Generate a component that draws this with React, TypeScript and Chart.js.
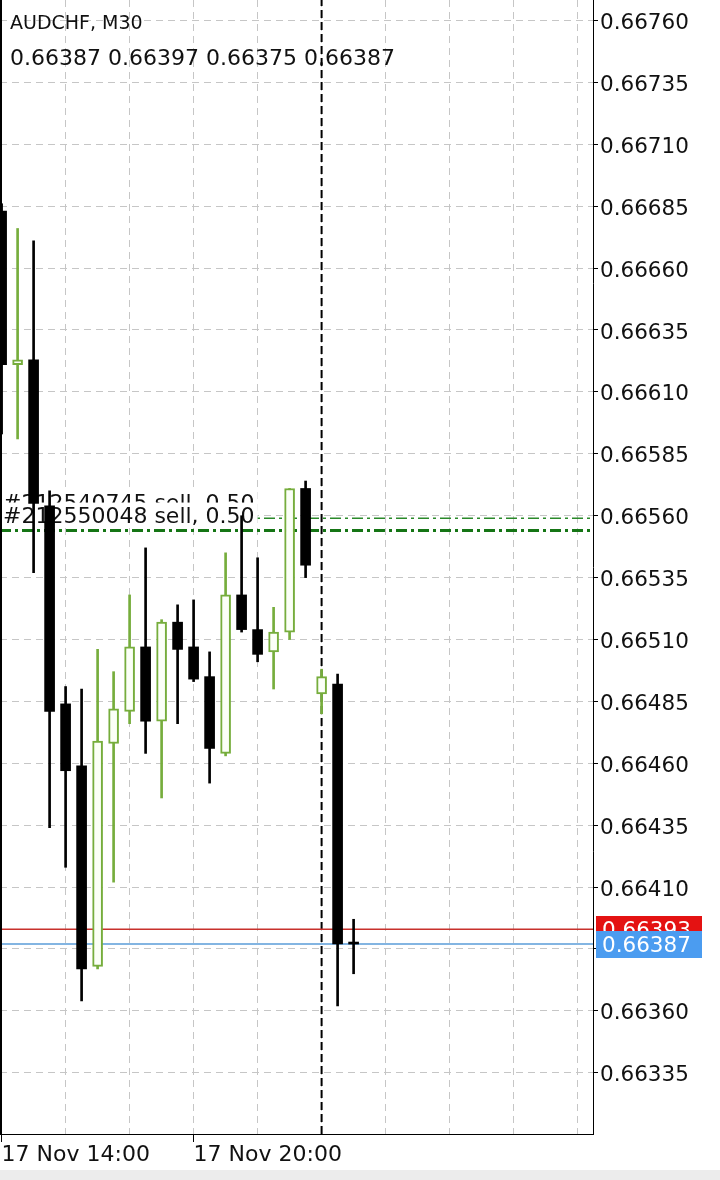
import React, { useEffect, useRef } from "react";
import { Chart, registerables } from "chart.js";

Chart.register(...registerables);

const SYMBOL_TITLE = "AUDCHF, M30";

const TIMES = [
  "17 Nov 14:00", "17 Nov 14:30", "17 Nov 15:00", "17 Nov 15:30", "17 Nov 16:00", "17 Nov 16:30",
  "17 Nov 17:00", "17 Nov 17:30", "17 Nov 18:00", "17 Nov 18:30", "17 Nov 19:00", "17 Nov 19:30",
  "17 Nov 20:00", "17 Nov 20:30", "17 Nov 21:00", "17 Nov 21:30", "17 Nov 22:00", "17 Nov 22:30",
  "17 Nov 23:00", "17 Nov 23:30", "18 Nov 00:00", "18 Nov 00:30", "18 Nov 01:00",
];

const OPEN = [
  0.66683, 0.66621, 0.66623, 0.66564, 0.66484, 0.66459, 0.66378, 0.66468, 0.66481, 0.66507, 0.66477, 0.66517,
  0.66507, 0.66495, 0.66464, 0.66528, 0.66514, 0.66505, 0.66513, 0.66571, 0.66488, 0.66492, 0.66387,
];
const HIGH = [
  0.66686, 0.66676, 0.66671, 0.66570, 0.66491, 0.66490, 0.66506, 0.66497, 0.66528, 0.66547, 0.66518, 0.66524,
  0.66526, 0.66505, 0.66545, 0.66560, 0.66543, 0.66523, 0.66571, 0.66574, 0.66498, 0.66496, 0.66397,
];
const LOW = [
  0.66593, 0.66591, 0.66537, 0.66434, 0.66418, 0.66364, 0.66377, 0.66412, 0.66476, 0.66464, 0.66446, 0.66476,
  0.66493, 0.66452, 0.66463, 0.66513, 0.66501, 0.66490, 0.66510, 0.66535, 0.66480, 0.66362, 0.66375,
];
const CLOSE = [
  0.66621, 0.66623, 0.66565, 0.66481, 0.66457, 0.66377, 0.66469, 0.66482, 0.66507, 0.66477, 0.66517, 0.66506,
  0.66494, 0.66466, 0.66528, 0.66514, 0.66504, 0.66513, 0.66571, 0.66540, 0.66495, 0.66387, 0.66387,
];

const Y_TICK_LABELS = [
  "0.66760", "0.66735", "0.66710", "0.66685", "0.66660", "0.66635", "0.66610", "0.66585", "0.66560",
  "0.66535", "0.66510", "0.66485", "0.66460", "0.66435", "0.66410", "0.66385", "0.66360", "0.66335",
];
const X_TICK_LABELS = ["17 Nov 14:00", "17 Nov 20:00"];
const GRID_EVERY_BARS = 4;
const DAY_SEPARATOR = "18 Nov 00:00";

const ORDER_LABELS = ["#212540745 sell, 0.50", "#212550048 sell, 0.50"];
const ORDER_PRICES = [0.66559, 0.66554];

const ASK_PRICE = 0.66393;
const BID_PRICE = 0.66387;

const Y_MIN = 0.6631028;
const Y_MAX = 0.6676828;
const X_MIN = -0.1;
const X_MAX = 36.9625;

const GREEN = "#76ad3c";
const FONT = '"DejaVu Sans"';

const isBull = (i: number) => CLOSE[i] > OPEN[i];

export default function App() {
  const ref = useRef<HTMLCanvasElement | null>(null);

  useEffect(() => {
    document.body.style.margin = "0";
    const canvas = ref.current;
    if (!canvas) return;

    const last = TIMES.length - 1;
    const ohlcText = [OPEN[last], HIGH[last], LOW[last], CLOSE[last]].map((v) => v.toFixed(5)).join(" ");
    const sepIndex = TIMES.indexOf(DAY_SEPARATOR);

    const overlay = {
      id: "overlay",
      beforeDatasetsDraw(chart: any) {
        const ctx = chart.ctx;
        ctx.save();
        ctx.fillStyle = "#111";
        ctx.textBaseline = "alphabetic";
        ctx.textAlign = "left";
        ctx.font = `19px ${FONT}`;
        ctx.fillText(SYMBOL_TITLE, 10, 29);
        ctx.font = `22px ${FONT}`;
        ctx.fillText(ohlcText, 10, 65);
        ctx.restore();
      },
      afterDatasetDraw(chart: any, args: any) {
        const ds = chart.data.datasets[args.index];
        if (ds.label !== "order-1") return;
        const ctx = chart.ctx;
        const ys = chart.scales.y;
        const left = chart.chartArea.left;
        ctx.save();
        ctx.font = `22px ${FONT}`;
        ctx.textAlign = "left";
        ctx.textBaseline = "alphabetic";
        ORDER_LABELS.forEach((txt, k) => {
          const py = ys.getPixelForValue(ORDER_PRICES[k]);
          const w = ctx.measureText(txt).width;
          ctx.fillStyle = "#ffffff";
          ctx.fillRect(left + 2, py - 28, w + 4, 25);
          ctx.fillStyle = "#111";
          ctx.fillText(txt, left + 3, py - 8);
        });
        ctx.restore();
      },
      afterDraw(chart: any) {
        const ctx = chart.ctx;
        const area = chart.chartArea;
        const ys = chart.scales.y;
        ctx.save();
        ctx.strokeStyle = "#000";
        ctx.lineWidth = 2;
        ctx.beginPath();
        ctx.moveTo(area.left + 1, area.top);
        ctx.lineTo(area.left + 1, area.bottom);
        ctx.stroke();

        const box = (price: number, color: string) => {
          const py = Math.round(ys.getPixelForValue(price));
          ctx.fillStyle = color;
          ctx.fillRect(area.right + 3, py - 13, 106, 27);
          ctx.fillStyle = "#fff";
          ctx.font = `21.5px ${FONT}`;
          ctx.textAlign = "left";
          ctx.textBaseline = "middle";
          ctx.fillText(price.toFixed(5), area.right + 9, py + 2);
        };
        box(ASK_PRICE, "#e41212");
        box(BID_PRICE, "#4b9cf0");
        ctx.restore();
      },
    };

    const hLine = (price: number) => [
      { x: X_MIN, y: price },
      { x: X_MAX, y: price },
    ];

    const chart = new Chart(canvas, {
      type: "bar",
      data: {
        datasets: [
          {
            type: "line",
            label: "separator",
            data: [
              { x: sepIndex, y: Y_MIN },
              { x: sepIndex, y: Y_MAX },
            ],
            borderColor: "#000",
            borderWidth: 2,
            borderDash: [8, 4],
            pointRadius: 0,
            order: 8,
          } as any,
          {
            type: "line",
            label: "order-0",
            data: hLine(ORDER_PRICES[0]),
            borderColor: "#2a8a2a",
            borderWidth: 1.5,
            borderDash: [11, 4, 3, 4],
            pointRadius: 0,
            order: 7,
          } as any,
          {
            type: "line",
            label: "order-1",
            data: hLine(ORDER_PRICES[1]),
            borderColor: "#157515",
            borderWidth: 3,
            borderDash: [11, 4, 3, 4],
            pointRadius: 0,
            order: 6,
          } as any,
          {
            type: "line",
            label: "ask",
            data: hLine(ASK_PRICE),
            borderColor: "#c8312c",
            borderWidth: 1.5,
            pointRadius: 0,
            order: 5,
          } as any,
          {
            type: "line",
            label: "bid",
            data: hLine(BID_PRICE),
            borderColor: "#5a9cd8",
            borderWidth: 1.5,
            pointRadius: 0,
            order: 4,
          } as any,
          {
            type: "bar",
            label: "wicks",
            data: TIMES.map((_, i) => ({ x: i, y: [LOW[i], HIGH[i]] })),
            backgroundColor: TIMES.map((_, i) => (isBull(i) ? GREEN : "#000")),
            borderWidth: 0,
            barThickness: 2,
            grouped: false,
            order: 2,
          } as any,
          {
            type: "bar",
            label: "bodies",
            data: TIMES.map((_, i) => ({ x: i, y: [OPEN[i], CLOSE[i]] })),
            backgroundColor: TIMES.map((_, i) => (isBull(i) ? "#fbfff7" : "#000")),
            borderColor: TIMES.map((_, i) => (isBull(i) ? GREEN : "#000")),
            borderWidth: TIMES.map((_, i) => (isBull(i) ? 2 : 0)),
            borderSkipped: false,
            barThickness: 10,
            minBarLength: 2,
            grouped: false,
            order: 1,
          } as any,
        ],
      },
      options: {
        responsive: false,
        animation: false,
        layout: { padding: 0 },
        plugins: { legend: { display: false }, tooltip: { enabled: false }, title: { display: false } },
        scales: {
          x: {
            type: "linear",
            min: X_MIN,
            max: X_MAX,
            offset: false,
            afterBuildTicks: (s: any) => {
              const t: any[] = [];
              for (let v = 0; v <= X_MAX; v += GRID_EVERY_BARS) t.push({ value: v });
              s.ticks = t;
            },
            afterFit: (s: any) => {
              s.height = 36;
              s.paddingLeft = 0;
              s.paddingRight = 0;
            },
            ticks: {
              autoSkip: false,
              maxRotation: 0,
              minRotation: 0,
              align: "start",
              padding: 0,
              color: "#111",
              font: { family: FONT, size: 22 },
              callback: (v: any) => {
                const lbl = TIMES[Number(v)];
                return lbl && X_TICK_LABELS.includes(lbl) ? lbl : "";
              },
            },
            grid: {
              offset: false,
              color: "#c6c6c6",
              lineWidth: 1,
              drawTicks: true,
              tickLength: 8,
              tickWidth: 1,
              tickColor: (c: any) => {
                const lbl = TIMES[Number(c.tick?.value)];
                return lbl && X_TICK_LABELS.includes(lbl) ? "#000" : "rgba(0,0,0,0)";
              },
            },
            border: { display: true, color: "#000", width: 1, dash: [7, 5] },
          } as any,
          y: {
            type: "linear",
            position: "right",
            min: Y_MIN,
            max: Y_MAX,
            beginAtZero: false,
            afterBuildTicks: (s: any) => {
              s.ticks = Y_TICK_LABELS.map((l) => ({ value: parseFloat(l) }));
            },
            afterFit: (s: any) => {
              s.width = 127;
              s.paddingTop = 0;
              s.paddingBottom = 0;
            },
            ticks: {
              padding: 2,
              labelOffset: 3,
              color: "#111",
              font: { family: FONT, size: 21.5 },
              callback: (v: any) => {
                const n = Number(v);
                const hidden = [ASK_PRICE, BID_PRICE].some((p) => Math.abs(p - n) < 0.00008);
                return hidden ? "" : n.toFixed(5);
              },
            },
            grid: { color: "#c6c6c6", lineWidth: 1, tickLength: 5, tickColor: "#000" },
            border: { display: true, color: "#000", width: 1, dash: [7, 5] },
          } as any,
        },
      },
      plugins: [overlay as any],
    });

    return () => chart.destroy();
  }, []);

  return (
    <div style={{ width: 720, height: 1180, background: "#fff" }}>
      <canvas ref={ref} width={720} height={1170} style={{ display: "block" }} />
      <div style={{ height: 10, background: "#ececec" }} />
    </div>
  );
}
